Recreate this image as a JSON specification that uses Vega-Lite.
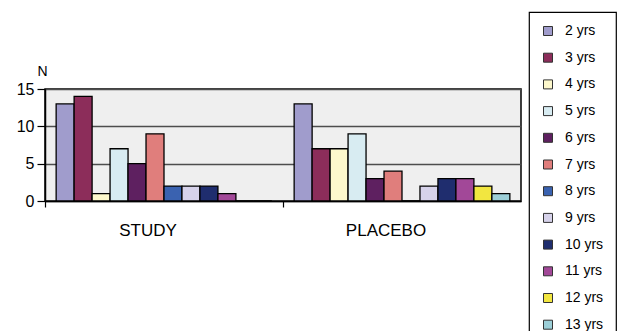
{
  "$schema": "https://vega.github.io/schema/vega-lite/v6.json",
  "autosize": "none",
  "padding": {"left": 45, "top": 89, "right": 103, "bottom": 130},
  "width": 476,
  "height": 112,
  "background": "white",
  "config": {
    "font": "Liberation Sans",
    "view": {"stroke": "black", "strokeWidth": 1.5, "fill": "#efefef"}
  },
  "data": {
    "values": [
      {"group": "STUDY", "age": "2 yrs", "n": 13},
      {"group": "STUDY", "age": "3 yrs", "n": 14},
      {"group": "STUDY", "age": "4 yrs", "n": 1},
      {"group": "STUDY", "age": "5 yrs", "n": 7},
      {"group": "STUDY", "age": "6 yrs", "n": 5},
      {"group": "STUDY", "age": "7 yrs", "n": 9},
      {"group": "STUDY", "age": "8 yrs", "n": 2},
      {"group": "STUDY", "age": "9 yrs", "n": 2},
      {"group": "STUDY", "age": "10 yrs", "n": 2},
      {"group": "STUDY", "age": "11 yrs", "n": 1},
      {"group": "STUDY", "age": "12 yrs", "n": 0},
      {"group": "STUDY", "age": "13 yrs", "n": 0},
      {"group": "PLACEBO", "age": "2 yrs", "n": 13},
      {"group": "PLACEBO", "age": "3 yrs", "n": 7},
      {"group": "PLACEBO", "age": "4 yrs", "n": 7},
      {"group": "PLACEBO", "age": "5 yrs", "n": 9},
      {"group": "PLACEBO", "age": "6 yrs", "n": 3},
      {"group": "PLACEBO", "age": "7 yrs", "n": 4},
      {"group": "PLACEBO", "age": "8 yrs", "n": 0},
      {"group": "PLACEBO", "age": "9 yrs", "n": 2},
      {"group": "PLACEBO", "age": "10 yrs", "n": 3},
      {"group": "PLACEBO", "age": "11 yrs", "n": 3},
      {"group": "PLACEBO", "age": "12 yrs", "n": 2},
      {"group": "PLACEBO", "age": "13 yrs", "n": 1}
    ]
  },
  "mark": {"type": "bar", "stroke": "black", "strokeWidth": 1.3},
  "encoding": {
    "x": {
      "field": "group",
      "type": "nominal",
      "sort": ["STUDY", "PLACEBO"],
      "scale": {"paddingInner": 0, "paddingOuter": 0},
      "axis": {
        "title": null,
        "labelAngle": 0,
        "labelFontSize": 17,
        "labelColor": "black",
        "labelPadding": 15,
        "labelOffset": -16,
        "bandPosition": 0,
        "domainColor": "black",
        "domainWidth": 1.5,
        "tickColor": "black",
        "tickSize": 6,
        "tickWidth": 1.2
      }
    },
    "xOffset": {
      "field": "age",
      "type": "nominal",
      "sort": ["2 yrs", "3 yrs", "4 yrs", "5 yrs", "6 yrs", "7 yrs", "8 yrs", "9 yrs", "10 yrs", "11 yrs", "12 yrs", "13 yrs"],
      "scale": {"paddingInner": 0, "paddingOuter": 0.62}
    },
    "y": {
      "field": "n",
      "type": "quantitative",
      "scale": {"domain": [0, 15], "nice": false},
      "axis": {
        "values": [0, 5, 10, 15],
        "title": "N",
        "titleAngle": 0,
        "titleX": -3,
        "titleY": -18,
        "titleAlign": "center",
        "titleBaseline": "middle",
        "titleFontSize": 14,
        "titleFontWeight": "normal",
        "titleColor": "black",
        "labelFontSize": 16,
        "labelColor": "black",
        "labelPadding": 3,
        "domainColor": "black",
        "domainWidth": 1.5,
        "tickColor": "black",
        "tickSize": 8,
        "tickWidth": 1.2,
        "grid": true,
        "gridColor": "#4d4d4d",
        "gridWidth": 1.6
      }
    },
    "color": {
      "field": "age",
      "type": "nominal",
      "sort": ["2 yrs", "3 yrs", "4 yrs", "5 yrs", "6 yrs", "7 yrs", "8 yrs", "9 yrs", "10 yrs", "11 yrs", "12 yrs", "13 yrs"],
      "scale": {
        "domain": ["2 yrs", "3 yrs", "4 yrs", "5 yrs", "6 yrs", "7 yrs", "8 yrs", "9 yrs", "10 yrs", "11 yrs", "12 yrs", "13 yrs"],
        "range": ["#a09ccc", "#8c2d5a", "#fdf8cc", "#d8ecf2", "#5e2060", "#e07e7c", "#3a62b0", "#d6d2ea", "#1f2d6e", "#a24898", "#f2e640", "#9ccfd8"]
      },
      "legend": {
        "title": null,
        "orient": "none",
        "legendX": 484,
        "legendY": -77,
        "padding": 12,
        "strokeColor": "black",
        "symbolType": "square",
        "symbolSize": 81,
        "symbolStrokeColor": "#333333",
        "symbolStrokeWidth": 1,
        "labelFontSize": 14,
        "labelColor": "black",
        "labelOffset": 10,
        "labelExpr": "datum.label + '\u00a0\u00a0\u00a0\u00a0\u00a0\u00a0\u00a0\u00a0\u00a0\u00a0\u00a0\u00a0\u00a0\u00a0\u00a0'",
        "labelLimit": 400,
        "rowPadding": 12.7,
        "encode": {"legend": {"update": {"strokeWidth": {"value": 1.2}}}}
      }
    }
  }
}
